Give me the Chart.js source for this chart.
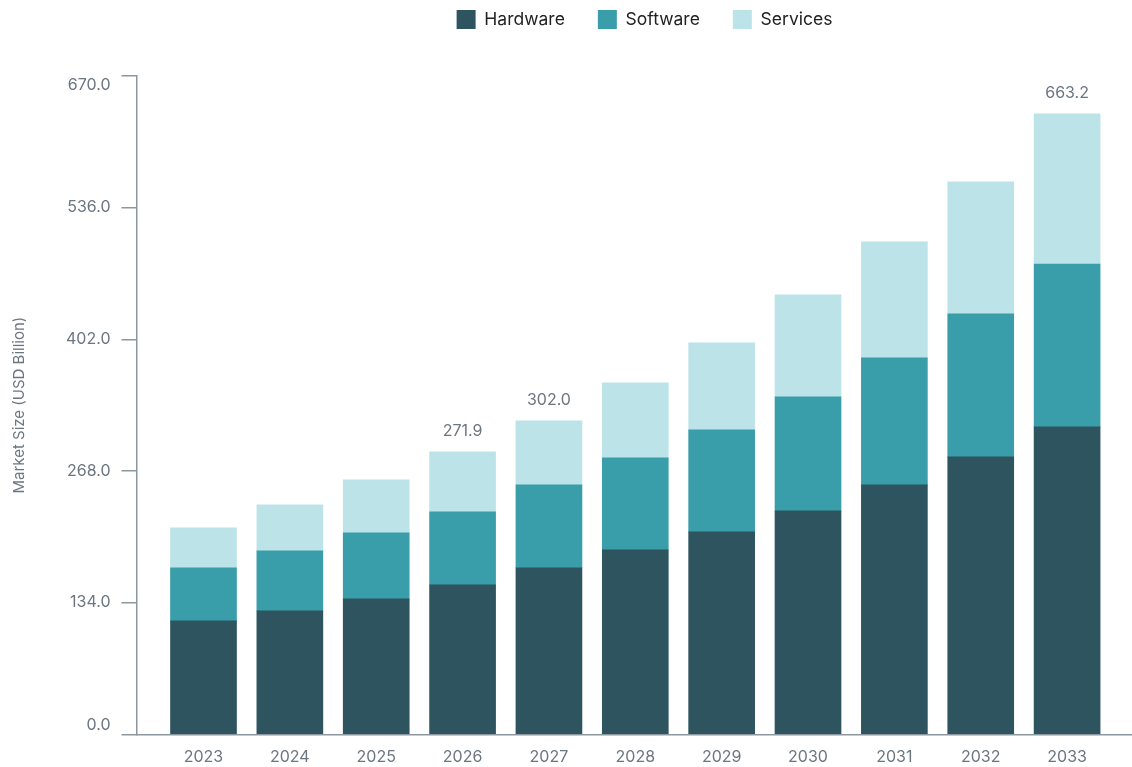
<!DOCTYPE html>
<html>
<head>
<meta charset="utf-8">
<script src="https://cdn.jsdelivr.net/npm/chart.js@4/dist/chart.umd.min.js"></script>
<style>
  html, body { margin: 0; padding: 0; background: #fff; }
  #wrap { width: 1132px; height: 767px; position: relative; }
</style>
</head>
<body>
<div id="wrap"><canvas id="marketChart"></canvas></div>
<script>
// values (USD billion)
const years = [2023, 2024, 2025, 2026, 2027, 2028, 2029, 2030, 2031, 2032, 2033];
const hardware = [115.5, 125.7, 137.9, 152.1, 169.4, 187.7, 206.0, 227.4, 253.9, 282.4, 312.9];
const software = [53.9, 61.0, 67.1, 74.3, 84.5, 93.6, 103.8, 116.0, 129.2, 145.5, 165.8];
const services = [40.7, 46.8, 54.0, 61.0, 65.1, 76.3, 88.6, 103.8, 118.0, 134.3, 152.7];
const yTicks = [0, 134, 268, 402, 536, 670];
// total labels printed above some bars
const callouts = { 2026: '271.9', 2027: '302.0', 2033: '663.2' };

const axisColor = '#8c979f';
const textGrey = '#6b7681';

// writes the callout text above the stacked bar
const calloutPlugin = {
  id: 'callouts',
  afterDatasetsDraw(chart) {
    const ctx = chart.ctx;
    const top = chart.getDatasetMeta(chart.data.datasets.length - 1);
    ctx.save();
    ctx.font = '16px Inter';
    ctx.fillStyle = textGrey;
    ctx.textAlign = 'center';
    ctx.textBaseline = 'middle';
    years.forEach((yr, i) => {
      if (!callouts[yr]) return;
      const bar = top.data[i];
      ctx.fillText(callouts[yr], bar.x, bar.y - 21);
    });
    ctx.restore();
  }
};

// extra room under the legend, and legend centred more to the right
const legendSpacer = {
  id: 'legendSpacer',
  afterInit(chart) {
    const fit = chart.legend.fit;
    chart.legend.fit = function () {
      fit.call(this);
      this.height += 37;
    };
  },
  afterLayout(chart) {
    chart.legend.left += 76;
    chart.legend.right += 76;
  }
};

new Chart(document.getElementById('marketChart'), {
  type: 'bar',
  data: {
    labels: years,
    datasets: [
      { label: 'Hardware', data: hardware, backgroundColor: '#2d545f' },
      { label: 'Software', data: software, backgroundColor: '#3a9eaa' },
      { label: 'Services', data: services, backgroundColor: '#bce4e8' }
    ]
  },
  options: {
    responsive: true,
    maintainAspectRatio: false,
    animation: false,
    events: [],
    barThickness: 66,
    layout: { padding: { left: 6, right: 1, top: -23, bottom: -12.5 } },
    plugins: {
      legend: {
        position: 'top',
        labels: {
          boxWidth: 19,
          boxHeight: 19,
          padding: 33,
          color: '#222',
          font: { family: 'Inter', size: 17.5 }
        }
      },
      tooltip: { enabled: false }
    },
    scales: {
      x: {
        type: 'linear',
        stacked: true,
        offset: false,
        min: 2022.224,
        max: 2033.74,
        afterBuildTicks: scale => { scale.ticks = years.map(v => ({ value: v })); },
        ticks: {
          callback: v => String(v),
          color: textGrey,
          font: { family: 'Inter', size: 16 },
          padding: 13
        },
        grid: { display: true, offset: false, drawOnChartArea: false, drawTicks: false },
        border: { color: axisColor, width: 1.5 }
      },
      y: {
        stacked: true,
        min: 0,
        max: 670,
        afterBuildTicks: scale => { scale.ticks = yTicks.map(v => ({ value: v })); },
        ticks: {
          // end labels sit inside the axis range, like the reference
          callback: v => {
            const s = v.toFixed(1);
            if (v === yTicks[0]) return [s, ''];
            if (v === yTicks[yTicks.length - 1]) return ['', s];
            return s;
          },
          color: textGrey,
          font: { family: 'Inter', size: 16 },
          padding: 11
        },
        grid: { drawOnChartArea: false, drawTicks: true, tickLength: 15, color: axisColor, lineWidth: 1.5 },
        border: { color: axisColor, width: 1.5 },
        title: {
          display: true,
          text: 'Market Size (USD Billion)',
          color: textGrey,
          font: { family: 'Inter', size: 15 },
          padding: { top: 4, bottom: 27 }
        }
      }
    }
  },
  plugins: [calloutPlugin, legendSpacer]
});
</script>
</body>
</html>
